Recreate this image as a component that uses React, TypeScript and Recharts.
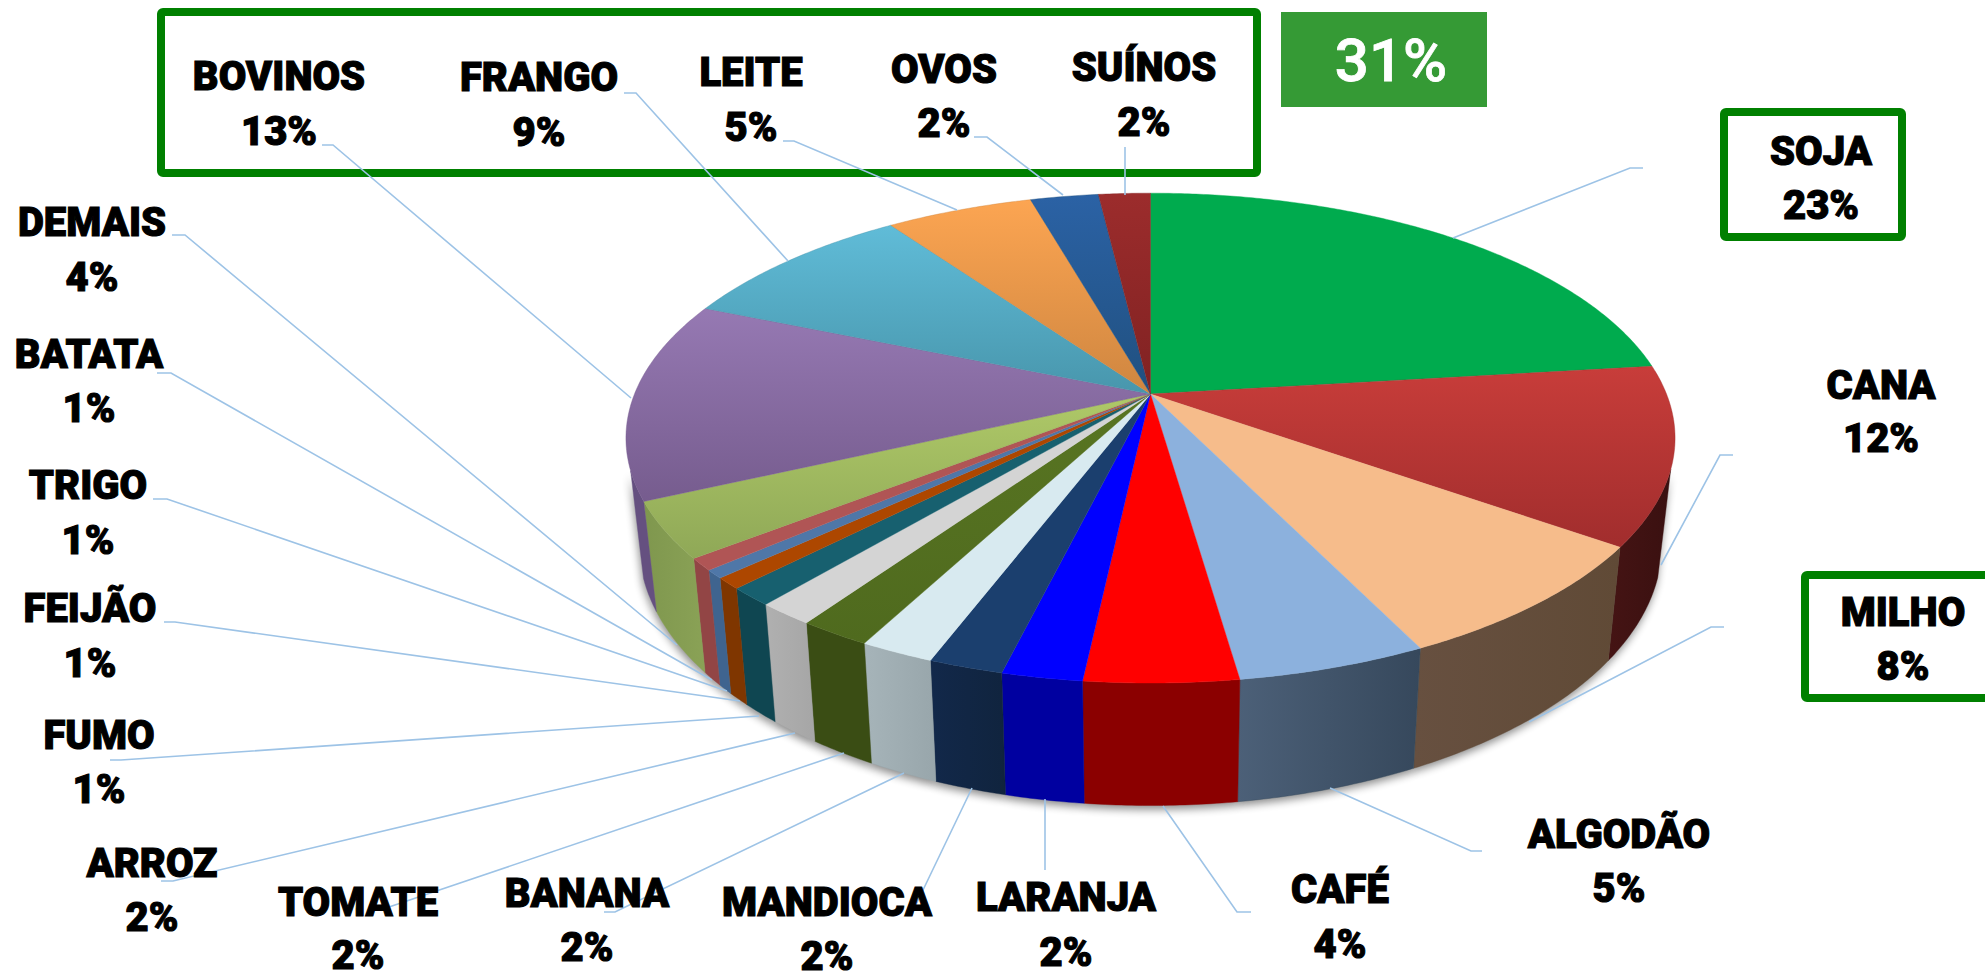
import React from "react";
import { PieChart, Pie } from "recharts";

// ---------- data ----------
const categories = ["SOJA","CANA","MILHO","ALGODÃO","CAFÉ","LARANJA","MANDIOCA","BANANA","TOMATE","ARROZ","FUMO","FEIJÃO","TRIGO","BATATA","DEMAIS","BOVINOS","FRANGO","LEITE","OVOS","SUÍNOS"];
const shares = [23.1,11.75,7.95,4.95,4.0,2.1,1.95,1.95,1.9,1.5,1.2,0.75,0.55,0.8,3.7,13.2,8.9,5.4,2.5,1.9];
const percentLabels = ["23%","12%","8%","5%","4%","2%","2%","2%","2%","2%","1%","1%","1%","1%","4%","13%","9%","5%","2%","2%"];
const groupTotalLabel = "31%";

// ---------- styles & layout ----------
const topColors = [
  ["#00AB4E","#00AB4E"],["#C83D3A","#A12D2D"],["#F6BC8B","#F6BC8B"],["#8CB1DD","#8CB1DD"],["#FF0000","#FF0000"],
  ["#0000FF","#0000FF"],["#1B3F6E","#1B3F6E"],["#D8EAF0","#D8EAF0"],["#587522","#4F6A1E"],["#D4D4D4","#D4D4D4"],
  ["#17606F","#17606F"],["#AD4700","#AD4700"],["#4F77A8","#4F77A8"],["#B05555","#B05555"],["#AFC968","#8FA857"],
  ["#9679B3","#765C8E"],["#60BCD8","#4896AC"],["#FCA552","#CF8640"],["#2B62A5","#20507F"],["#9C2C2C","#802222"],
];
const wallColors = [
  ["#006030","#006030"],["#451414","#3A1010"],["#675040","#604A36"],["#4C6078","#36485C"],["#8B0000","#8B0000"],
  ["#0000A0","#0000A0"],["#12284A","#10243E"],["#A6B4B9","#98A6AB"],["#3A4D14","#3A4D14"],["#B0B0B0","#A6A6A6"],
  ["#0F4651","#0F4651"],["#7F3600","#7F3600"],["#3F648F","#3F648F"],["#924545","#924545"],["#7F974E","#8AA256"],
  ["#655080","#655080"],["#3F8090","#3F8090"],["#A86C30","#A86C30"],["#1A4070","#1A4070"],["#601A1A","#601A1A"],
];
// [center x, name y, percent y]
const labelPlaces = [
  [1821,151,205],[1881,385,438],[1903,612,666],[1619,834,888],[1340,889,944],[1066,897,952],[827,902,956],[587,893,947],
  [358,902,955],[152,863,917],[99,735,789],[90,608,663],[88,485,540],[89,354,408],[92,222,277],[279,76,131],[539,77,132],
  [751,72,127],[944,69,123],[1144,67,122],
];
const leaderPaths = [
  "1643,168 1630,168 1453,238","1733,455 1720,455 1661,565","1724,627 1711,627 1529,722","1482,851 1471,851 1330,788",
  "1251,912 1237,912 1163,806","1045,870 1045,799","906,915 911,915 972,788","604,912 615,912 904,773","389,907 844,753",
  "161,881 173,881 795,733","110,760 121,760 759,716","164,622 175,622 740,701","153,499 167,499 727,691","157,373 171,373 712,680",
  "172,235 185,235 677,645","322,145 333,145 631,398","624,93 636,93 788,261","783,141 794,141 957,210","974,137 987,137 1063,195","1125,147 1125,195",
];
const CX = 1150.5, CY = 394, R = 516;
const B = 237, K = 0.18;
const LOW_SCALE = 0.975, LOW_B = 253, LOW_DY = 103, WALL_MIN = 0.3;
const FONT = "Roboto, sans-serif";

const tableData = categories.map((name, i) => ({ name, value: shares[i] }));

const project = (deg: number, low = false) => {
  const a = (deg * Math.PI) / 180;
  const u = Math.cos(a), w = -Math.sin(a);
  const d = 1 - K * w;
  return low
    ? { x: CX + (R * LOW_SCALE * u) / d, y: CY + LOW_DY + (LOW_B * w) / d, w }
    : { x: CX + (R * u) / d, y: CY + (B * w) / d, w };
};
const anglesOf = (start: number, end: number) => {
  const out: number[] = [];
  const n = Math.max(2, Math.ceil(Math.abs(end - start) / 0.5));
  for (let i = 0; i <= n; i++) out.push(start + ((end - start) * i) / n);
  return out;
};
const pts = (list: { x: number; y: number }[]) => list.map((p) => `${p.x.toFixed(2)},${p.y.toFixed(2)}`).join(" ");

const wallPoints = (p: any) => {
  const angs = anglesOf(p.startAngle, p.endAngle).filter((a) => project(a).w >= WALL_MIN);
  if (angs.length < 2) return null;
  return pts([...angs.map((a) => project(a)), ...angs.slice().reverse().map((a) => project(a, true))]);
};

const ShadowShape = (p: any) => {
  const d = wallPoints(p);
  return d ? <polygon points={d} fill="#000" opacity={0.45} transform="translate(-1,4)" style={{ filter: "blur(4px)" }} /> : <g />;
};
const WallShape = (p: any) => {
  const d = wallPoints(p);
  if (!d) return <g />;
  const id = `wall${p.index}`;
  const [c1, c2] = wallColors[p.index];
  return (
    <g>
      <defs>
        <linearGradient id={id} x1="0" y1="0" x2="1" y2="0">
          <stop offset="0" stopColor={c1} />
          <stop offset="1" stopColor={c2} />
        </linearGradient>
      </defs>
      <polygon points={d} fill={`url(#${id})`} stroke={c2} strokeWidth={0.4} />
    </g>
  );
};
const TopShape = (p: any) => {
  const id = `top${p.index}`;
  const [c1, c2] = topColors[p.index];
  const rim = anglesOf(p.startAngle, p.endAngle).map((a) => project(a));
  return (
    <g>
      <defs>
        <linearGradient id={id} x1="0" y1="0" x2="0" y2="1">
          <stop offset="0" stopColor={c1} />
          <stop offset="1" stopColor={c2} />
        </linearGradient>
      </defs>
      <polygon points={pts([{ x: CX, y: CY }, ...rim])} fill={`url(#${id})`} stroke={c2} strokeWidth={0.4} />
    </g>
  );
};

const renderLabel = (p: any) => {
  const i = p.index;
  const [x, y1, y2] = labelPlaces[i];
  const style = { fontFamily: FONT, fontWeight: 900, fontSize: 40, fill: "#000", stroke: "#000", strokeWidth: 1.1 } as const;
  return (
    <g key={i}>
      <polyline points={leaderPaths[i]} fill="none" stroke="#9DC3E6" strokeWidth={1.6} />
      <text x={x} y={y1 + 14} textAnchor="middle" style={style}>{categories[i]}</text>
      <text x={x} y={y2 + 14} textAnchor="middle" style={style}>{percentLabels[i]}</text>
    </g>
  );
};

export default function App() {
  return (
    <div style={{ position: "absolute", left: 0, top: 0, width: 1985, height: 971, overflow: "hidden", background: "#fff" }}>
      <PieChart width={1985} height={971} margin={{ top: 0, right: 0, bottom: 0, left: 0 }}>
        <Pie data={tableData} dataKey="value" nameKey="name" cx={CX} cy={CY} outerRadius={R} startAngle={90} endAngle={-270} isAnimationActive={false} shape={ShadowShape} stroke="none" legendType="none" />
        <Pie data={tableData} dataKey="value" nameKey="name" cx={CX} cy={CY} outerRadius={R} startAngle={90} endAngle={-270} isAnimationActive={false} shape={WallShape} stroke="none" legendType="none" />
        <Pie data={tableData} dataKey="value" nameKey="name" cx={CX} cy={CY} outerRadius={R} startAngle={90} endAngle={-270} isAnimationActive={false} shape={TopShape} stroke="none" legendType="none" label={renderLabel} labelLine={false} />
        <rect x={161} y={12} width={1096} height={161} fill="none" stroke="#008000" strokeWidth={8} rx={2} />
        <rect x={1724} y={112} width={178} height={125} fill="none" stroke="#008000" strokeWidth={8} rx={2} />
        <rect x={1805} y={575} width={260} height={123} fill="none" stroke="#008000" strokeWidth={8} rx={2} />
        <rect x={1281} y={12} width={206} height={95} fill="#359A35" />
        <text x={1391} y={81} textAnchor="middle" style={{ fontFamily: FONT, fontWeight: 500, fontSize: 60, fill: "#fff", stroke: "#fff", strokeWidth: 0.8 }}>{groupTotalLabel}</text>
      </PieChart>
    </div>
  );
}
